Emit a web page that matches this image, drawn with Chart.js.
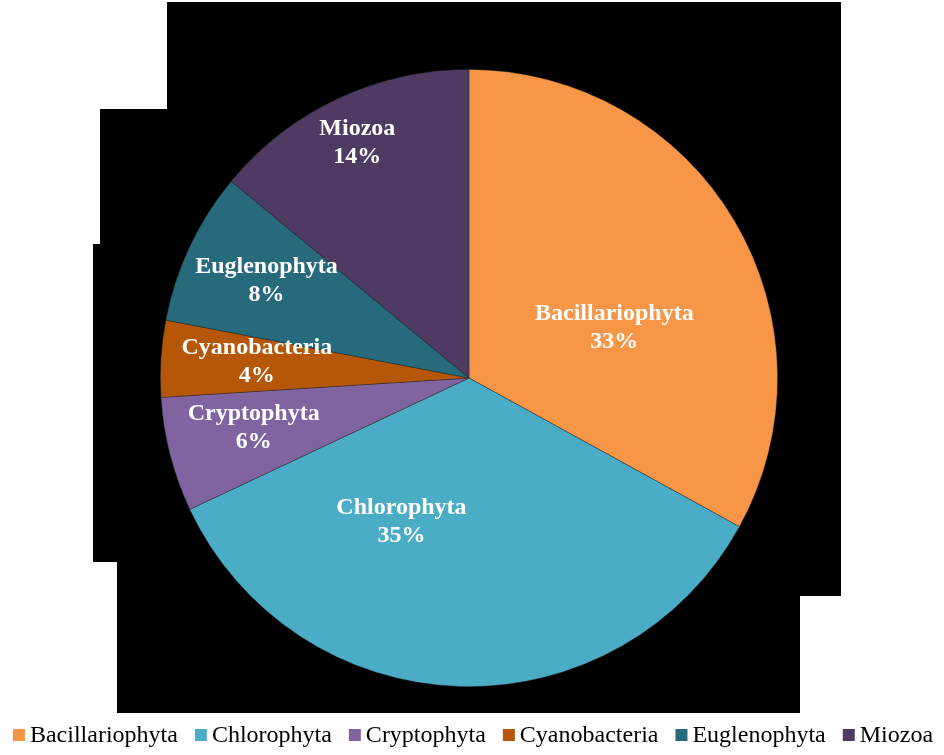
<!DOCTYPE html>
<html>
<head>
<meta charset="utf-8">
<script src="https://cdn.jsdelivr.net/npm/chart.js@4"></script>
<style>
  html, body { margin: 0; padding: 0; background: #ffffff; }
  #wrap { width: 944px; height: 755px; position: relative; }
</style>
</head>
<body>
<div id="wrap"><canvas id="chart"></canvas></div>
<script>
// Phylum composition of the phytoplankton community (% of taxa)
const phyla = ['Bacillariophyta', 'Chlorophyta', 'Cryptophyta', 'Cyanobacteria', 'Euglenophyta', 'Miozoa'];
const shares = [33, 35, 6, 4, 8, 14];
const sliceColors = ['#F79646', '#4BACC6', '#8064A2', '#B65708', '#276A7C', '#4F3B62'];

// Label placement inside each slice: [angle shift from the slice middle (deg), fraction of radius]
const labelPlacement = [[11, 0.50], [23.6, 0.51], [1.8, 0.715], [1.3, 0.69], [0.8, 0.73], [0, 0.85]];

const serif = '"Liberation Serif", "Times New Roman", serif';

// Dark backdrop behind the pie
const backdrop = {
  id: 'backdrop',
  beforeDraw(chart) {
    const ctx = chart.ctx;
    const pts = [[167, 2], [841, 2], [841, 596], [800, 596], [800, 713], [117, 713],
                 [117, 562], [93, 562], [93, 244], [100, 244], [100, 109], [167, 109]];
    ctx.save();
    ctx.fillStyle = '#ffffff';
    ctx.fillRect(0, 0, chart.width, chart.height);
    ctx.fillStyle = '#000000';
    ctx.beginPath();
    pts.forEach(([x, y], i) => i ? ctx.lineTo(x, y) : ctx.moveTo(x, y));
    ctx.closePath();
    ctx.fill();
    ctx.restore();
  }
};

// Name and percentage written inside each slice
const sliceLabels = {
  id: 'sliceLabels',
  afterDatasetsDraw(chart) {
    const ctx = chart.ctx;
    const ds = chart.data.datasets[0];
    const total = ds.data.reduce((a, b) => a + b, 0);
    const meta = chart.getDatasetMeta(0);
    ctx.save();
    ctx.fillStyle = '#ffffff';
    ctx.font = 'bold 24px ' + serif;
    ctx.textAlign = 'center';
    ctx.textBaseline = 'middle';
    meta.data.forEach((arc, i) => {
      const p = arc.getProps(['x', 'y', 'startAngle', 'endAngle', 'outerRadius'], true);
      const [shift, frac] = labelPlacement[i];
      const a = (p.startAngle + p.endAngle) / 2 + shift * Math.PI / 180;
      const r = p.outerRadius * frac;
      const cx = p.x + Math.cos(a) * r;
      const cy = p.y + Math.sin(a) * r;
      const pct = Math.round(ds.data[i] / total * 100) + '%';
      ctx.fillText(chart.data.labels[i], cx, cy - 12);
      ctx.fillText(pct, cx, cy + 16);
    });
    ctx.restore();
  }
};

// Single-row legend along the bottom edge
const bottomLegend = {
  id: 'bottomLegend',
  afterDraw(chart) {
    const ctx = chart.ctx;
    const labels = chart.data.labels;
    const colors = chart.data.datasets[0].backgroundColor;
    const box = 12, gapText = 5, gapItem = 17, yMid = 736;
    ctx.save();
    ctx.font = '24px ' + serif;
    const widths = labels.map(l => ctx.measureText(l).width);
    const total = widths.reduce((s, w) => s + box + gapText + w, 0) + gapItem * (labels.length - 1);
    let x = (chart.width - total) / 2 + 1;
    ctx.textBaseline = 'middle';
    ctx.textAlign = 'left';
    labels.forEach((l, i) => {
      ctx.fillStyle = colors[i];
      ctx.fillRect(x, yMid - box / 2 - 1, box, box);
      x += box + gapText;
      ctx.fillStyle = '#000000';
      ctx.fillText(l, x, yMid);
      x += widths[i] + gapItem;
    });
    ctx.restore();
  }
};

new Chart(document.getElementById('chart'), {
  type: 'pie',
  data: {
    labels: phyla,
    datasets: [{
      data: shares,
      backgroundColor: sliceColors,
      borderColor: 'rgba(40,40,40,0.55)',
      borderWidth: 0.75
    }]
  },
  options: {
    responsive: true,
    maintainAspectRatio: false,
    animation: false,
    layout: { padding: { top: 69, bottom: 68, left: 0, right: 6 } },
    plugins: {
      tooltip: { enabled: false },
      legend: { display: false }
    }
  },
  plugins: [backdrop, sliceLabels, bottomLegend]
});
</script>
</body>
</html>
